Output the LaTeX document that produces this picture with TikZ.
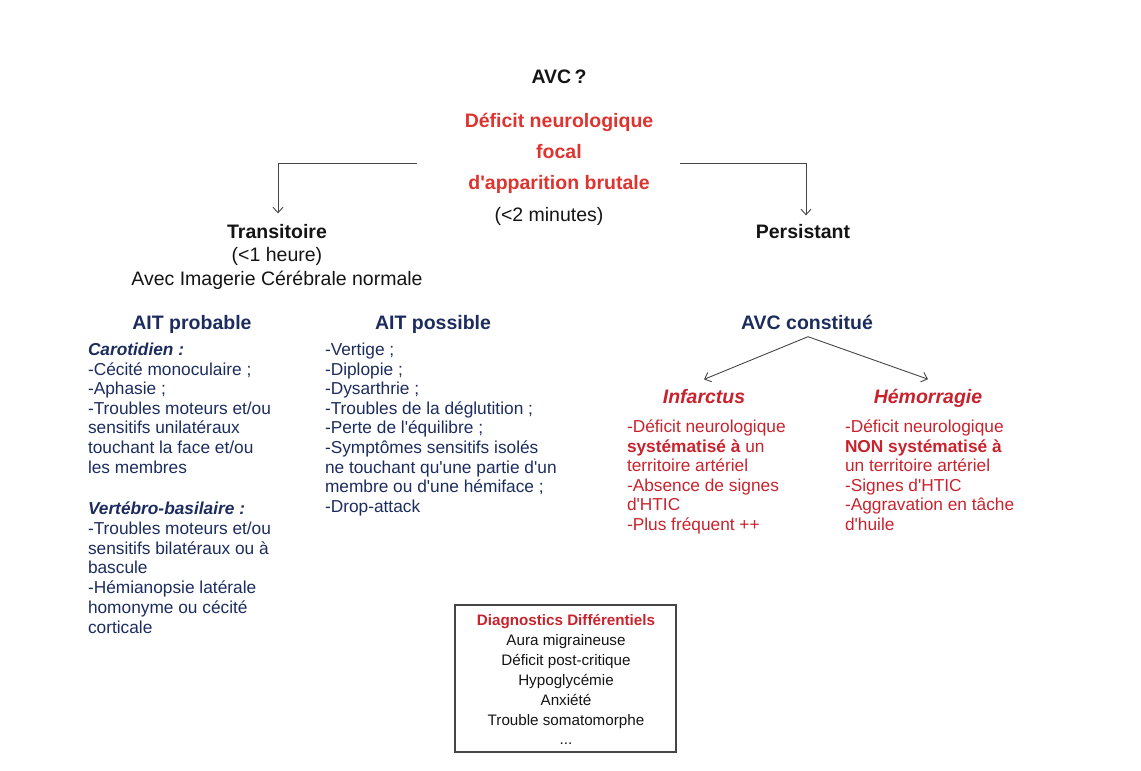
\documentclass[tikz,border=0pt]{standalone}
\usepackage{fontspec}
\setmainfont{Liberation Sans}[Ligatures=TeXOff]
\usetikzlibrary{arrows.meta}
\definecolor{redT}{RGB}{222,52,48}
\definecolor{redD}{RGB}{200,35,45}
\definecolor{navy}{RGB}{28,44,94}
\definecolor{txt}{RGB}{20,20,20}
\definecolor{ln}{RGB}{70,70,70}
\newcommand\hdf{\fontsize{19.5}{23}\selectfont\bfseries}
\newcommand\regf{\fontsize{19.5}{23}\selectfont}
\newcommand\bodyf{\fontsize{17.3}{19.6}\selectfont}
\newcommand\boxf{\fontsize{15.2}{19.9}\selectfont}
\begin{document}
\begin{tikzpicture}[x=1pt,y=-1pt,
  every node/.style={inner sep=0pt, outer sep=0pt},
  hdr/.style={font=\hdf, anchor=base},
  col/.style={font=\bodyf, align=left, anchor=base west},
  arr/.style={draw=ln, line width=0.9pt, -{Straight Barb[length=5.5pt,width=10pt]}}]
\useasboundingbox (0,0) rectangle (1141,771);
% top (multi-line nodes are anchored at the baseline of their last line)
\node[hdr, text=txt] (avc) at (559,83) {AVC\,?};
\node[font=\fontsize{19.5}{31}\selectfont\bfseries, text=redT, align=center, anchor=base] (title) at (559,189.5)
  {Déficit neurologique\\focal\\d'apparition brutale};
\node[font=\regf, text=txt, anchor=base] (min) at (549,221.5) {(<2 minutes)};
\coordinate (tl) at (417,163);
\coordinate (tr) at (680,163);
% branches
\node[hdr, text=txt] (trans) at (277,238.5) {Transitoire};
\node[font=\regf, text=txt, anchor=base] (heure) at (277,261.5) {(<1 heure)};
\node[font=\regf, text=txt, anchor=base] (imag) at (277,285.5) {Avec Imagerie Cérébrale normale};
\node[hdr, text=txt] (pers) at (803,238.5) {Persistant};
\draw[arr] (tl) -| ([xshift=1pt,yshift=11pt]trans.north);
\draw[arr] (tr) -| ([xshift=3pt,yshift=9pt]pers.north);
% AIT
\node[hdr, text=navy] (aitprob) at (192,329.5) {AIT probable};
\node[hdr, text=navy] (aitposs) at (433,329.5) {AIT possible};
\node[col, text=navy] (carot) at (88,473.1)
  {\textbf{\textit{Carotidien :}}\\-Cécité monoculaire ;\\-Aphasie ;\\-Troubles moteurs et/ou\\sensitifs unilatéraux\\touchant la face et/ou\\les membres};
\node[col, text=navy, font=\fontsize{17.3}{19.8}\selectfont] (vert) at (88,633.3)
  {\textbf{\textit{Vertébro-basilaire :}}\\-Troubles moteurs et/ou\\sensitifs bilatéraux ou à\\bascule\\-Hémianopsie latérale\\homonyme ou cécité\\corticale};
\node[col, text=navy] (poss) at (325,512.3)
  {-Vertige ;\\-Diplopie ;\\-Dysarthrie ;\\-Troubles de la déglutition ;\\-Perte de l'équilibre ;\\-Symptômes sensitifs isolés\\ne touchant qu'une partie d'un\\membre ou d'une hémiface ;\\-Drop-attack};
% AVC constitue
\node[hdr, text=navy] (avcc) at (807,329.5) {AVC constitué};
\node[hdr, text=redD, font=\hdf\itshape] (inf) at (704,403.5) {Infarctus};
\node[hdr, text=redD, font=\hdf\itshape] (hem) at (928,403.5) {Hémorragie};
\draw[arr] ([xshift=1pt,yshift=-7pt]avcc.south) -- ([yshift=10pt]inf.north);
\draw[arr] ([xshift=1pt,yshift=-7pt]avcc.south) -- ([yshift=10pt]hem.north);
\node[col, text=redD] (inftxt) at (627,530.5)
  {-Déficit neurologique\\\textbf{systématisé à} un\\territoire artériel\\-Absence de signes\\d'HTIC\\-Plus fréquent ++};
\node[col, text=redD] (hemtxt) at (845,530.5)
  {-Déficit neurologique\\\textbf{NON systématisé à}\\un territoire artériel\\-Signes d'HTIC\\-Aggravation en tâche\\d'huile};
% differential box
\node[draw=ln, line width=1.1pt, minimum width=221pt, minimum height=147pt, anchor=north west] (ddbox) at (455,605) {};
\node[font=\boxf, text=txt, align=center, anchor=base] (ddtxt) at (566,744.9)
  {\textcolor{redD}{\textbf{Diagnostics Différentiels}}\\Aura migraineuse\\Déficit post-critique\\Hypoglycémie\\Anxiété\\Trouble somatomorphe\\...};
\end{tikzpicture}
\end{document}
